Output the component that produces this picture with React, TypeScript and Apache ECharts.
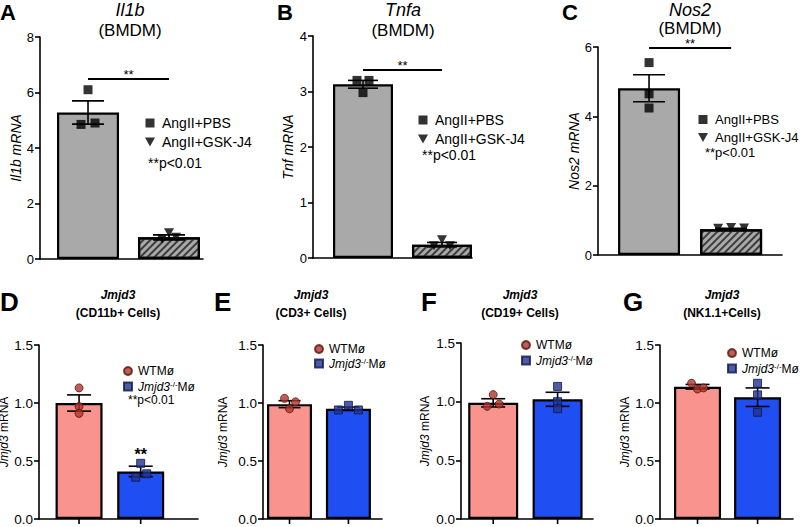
import React, { useEffect, useRef } from 'react';
import * as echarts from 'echarts';

const FONT = '"Liberation Sans", Arial, Helvetica, sans-serif';

// ---------------- data ----------------
const bmdmGroups = ['AngII+PBS', 'AngII+GSK-J4'];
const jmjdGroups = ['WTMø', 'Jmjd3-/-Mø'];

const il1bTicks = [0, 2, 4, 6, 8];
const il1bMean = [5.28, 0.78];
const il1bSem = [0.42, 0.09];
const il1bPbs = [6.1, 4.85, 4.9];
const il1bGsk = [0.95, 0.72, 0.78];
const il1bSig = 6.5;

const tnfTicks = [0, 1, 2, 3, 4];
const tnfMean = [3.13, 0.24];
const tnfSem = [0.07, 0.04];
const tnfPbs = [3.2, 3.2, 2.98];
const tnfGsk = [0.33, 0.22, 0.22];
const tnfSig = 3.39;

const nos2Ticks = [0, 2, 4, 6];
const nos2Mean = [4.81, 0.74];
const nos2Sem = [0.39, 0.03];
const nos2Pbs = [5.55, 4.65, 4.24];
const nos2Gsk = [0.77, 0.79, 0.78];
const nos2Sig = 5.97;

const jmjdTicks = [0, 0.5, 1.0, 1.5];

const cd11bMean = [1.0, 0.41];
const cd11bSem = [0.07, 0.045];
const cd11bWt = [1.13, 0.97, 0.91];
const cd11bKo = [0.48, 0.36, 0.39];
const cd11bStar = 0.56;

const cd3Mean = [0.99, 0.95];
const cd3Sem = [0.03, 0.015];
const cd3Wt = [1.04, 1.01, 0.95];
const cd3Ko = [0.94, 0.98, 0.94];

const cd19Mean = [0.99, 1.02];
const cd19Sem = [0.035, 0.06];
const cd19Wt = [1.06, 0.96, 0.98];
const cd19Ko = [1.13, 1.0, 0.94];

const nk11Mean = [1.14, 1.05];
const nk11Sem = [0.02, 0.08];
const nk11Wt = [1.17, 1.12, 1.13];
const nk11Ko = [1.17, 1.07, 0.92];

// ---------------- panels ----------------
type Layout = {
  left: number; top: number; width: number; height: number;
  xMin: number; xMax: number; barWidth: number; cap: number;
  jA: number[]; jB: number[]; nameGap: number;
  lgLeft: number; lgTop: number; lgGap: number; lgFont: number;
  letter: string; lx: number; ly: number;
  title1: string; title2: string; tx: number; t2y: number;
  pval?: [number, number];
};

const panels: any[] = [
  {
    kind: 'bmdm', mean: il1bMean, sem: il1bSem, ptsA: il1bPbs, ptsB: il1bGsk, ticks: il1bTicks,
    yName: 'Il1b mRNA', sig: il1bSig,
    L: { left: 40, top: 37, width: 163, height: 222, xMin: -0.593, xMax: 1.42, barWidth: 62, cap: 16,
      jA: [0, -7, 7], jB: [0, -7, 7], nameGap: 17, lgLeft: 145, lgTop: 116, lgGap: 5, lgFont: 14,
      letter: 'A', lx: 0, ly: 12, title1: 'Il1b', title2: '(BMDM)', tx: 130, t2y: 30, pval: [148, 163] } as Layout,
  },
  {
    kind: 'bmdm', mean: tnfMean, sem: tnfSem, ptsA: tnfPbs, ptsB: tnfGsk, ticks: tnfTicks,
    yName: 'Tnf mRNA', sig: tnfSig,
    L: { left: 313, top: 36, width: 159, height: 222, xMin: -0.633, xMax: 1.38, barWidth: 60, cap: 15,
      jA: [-6, 6, 0], jB: [0, -8, 8], nameGap: 18, lgLeft: 418, lgTop: 113, lgGap: 5, lgFont: 14,
      letter: 'B', lx: 277, ly: 12, title1: 'Tnfa', title2: '(BMDM)', tx: 403, t2y: 30, pval: [422, 155] } as Layout,
  },
  {
    kind: 'bmdm', mean: nos2Mean, sem: nos2Sem, ptsA: nos2Pbs, ptsB: nos2Gsk, ticks: nos2Ticks,
    yName: 'Nos2 mRNA', sig: nos2Sig,
    L: { left: 598, top: 47, width: 184, height: 208, xMin: -0.622, xMax: 1.62, barWidth: 62, cap: 16,
      jA: [0, 0, 0], jB: [-13, 0, 13], nameGap: 14, lgLeft: 698, lgTop: 113, lgGap: 5, lgFont: 13,
      letter: 'C', lx: 562, ly: 12, title1: 'Nos2', title2: '(BMDM)', tx: 690, t2y: 28, pval: [705, 152] } as Layout,
  },
  {
    kind: 'jmjd', mean: cd11bMean, sem: cd11bSem, ptsA: cd11bWt, ptsB: cd11bKo, ticks: jmjdTicks,
    star: cd11bStar,
    L: { left: 39, top: 345, width: 159, height: 174, xMin: -0.65, xMax: 1.93, barWidth: 47, cap: 12,
      jA: [0, 0, 0], jB: [0, -5, 6], nameGap: 16, lgLeft: 123, lgTop: 365, lgGap: 3, lgFont: 12,
      letter: 'D', lx: 0, ly: 302, title1: 'Jmjd3', title2: '(CD11b+ Cells)', tx: 118, t2y: 313, pval: [128, 400] } as Layout,
  },
  {
    kind: 'jmjd', mean: cd3Mean, sem: cd3Sem, ptsA: cd3Wt, ptsB: cd3Ko, ticks: jmjdTicks,
    L: { left: 263, top: 345, width: 119, height: 174, xMin: -0.45, xMax: 1.57, barWidth: 45, cap: 11,
      jA: [-5, 6, 0], jB: [-10, 0, 10], nameGap: 34, lgLeft: 314, lgTop: 343, lgGap: 2, lgFont: 12,
      letter: 'E', lx: 214, ly: 302, title1: 'Jmjd3', title2: '(CD3+ Cells)', tx: 311, t2y: 313 } as Layout,
  },
  {
    kind: 'jmjd', mean: cd19Mean, sem: cd19Sem, ptsA: cd19Wt, ptsB: cd19Ko, ticks: jmjdTicks,
    L: { left: 461, top: 343, width: 132, height: 176, xMin: -0.5, xMax: 1.55, barWidth: 50, cap: 12,
      jA: [0, -6, 6], jB: [0, 0, 0], nameGap: 30, lgLeft: 521, lgTop: 339, lgGap: 3, lgFont: 12,
      letter: 'F', lx: 421, ly: 302, title1: 'Jmjd3', title2: '(CD19+ Cells)', tx: 520, t2y: 313 } as Layout,
  },
  {
    kind: 'jmjd', mean: nk11Mean, sem: nk11Sem, ptsA: nk11Wt, ptsB: nk11Ko, ticks: jmjdTicks,
    L: { left: 660, top: 345, width: 133, height: 174, xMin: -0.625, xMax: 1.59, barWidth: 47, cap: 12,
      jA: [-6, 0, 6], jB: [0, 0, 0], nameGap: 29, lgLeft: 727, lgTop: 347, lgGap: 3, lgFont: 12,
      letter: 'G', lx: 623, ly: 302, title1: 'Jmjd3', title2: '(NK1.1+Cells)', tx: 722, t2y: 313 } as Layout,
  },
];

const TRI_DOWN = 'path://M0,0L10,0L5,9Z';
const SQUARE = 'path://M0,0L10,0L10,10L0,10Z';

function buildOption() {
  const grid: any[] = [];
  const xAxis: any[] = [];
  const yAxis: any[] = [];
  const series: any[] = [];
  const legend: any[] = [];
  const graphic: any[] = [];

  panels.forEach((p, k) => {
    const L: Layout = p.L;
    const bm = p.kind === 'bmdm';
    const groups = bm ? bmdmGroups : jmjdGroups;

    grid.push({ left: L.left, top: L.top, width: L.width, height: L.height, outerBoundsMode: 'none' });

    xAxis.push({
      gridIndex: k, type: 'value', min: L.xMin, max: L.xMax,
      axisLine: { show: true, onZero: false, lineStyle: { color: '#000', width: 1.6 } },
      axisTick: { show: false }, axisLabel: { show: false }, splitLine: { show: false },
    });

    const t = p.ticks;
    yAxis.push({
      gridIndex: k, type: 'value', min: t[0], max: t[t.length - 1], interval: t[1] - t[0],
      axisLine: { show: true, onZero: false, lineStyle: { color: '#000', width: 1.6 } },
      axisTick: { show: true, length: 5, lineStyle: { color: '#000', width: 1.6 } },
      axisLabel: {
        color: '#000', fontSize: bm ? 13 : 13.5, fontFamily: FONT, margin: 6,
        formatter: bm ? (v: number) => String(v) : (v: number) => v.toFixed(1),
      },
      splitLine: { show: false },
      name: bm ? p.yName : '{i|Jmjd3} mRNA',
      nameLocation: 'middle', nameGap: L.nameGap, nameRotate: 90,
      nameTextStyle: bm
        ? { color: '#000', fontSize: 14, fontStyle: 'italic', fontFamily: FONT }
        : {
            color: '#000', fontSize: 12, fontFamily: FONT,
            rich: { i: { color: '#000', fontSize: 12, fontStyle: 'italic', fontFamily: FONT } },
          },
    });

    const barStyles = bm
      ? [
          { color: '#a9a9a9', borderColor: '#000', borderWidth: 2.2 },
          {
            color: '#a9a9a9', borderColor: '#000', borderWidth: 2.2,
            decal: {
              symbol: 'rect', symbolSize: 1, dashArrayX: [1, 0], dashArrayY: [2, 3],
              rotation: -Math.PI / 4, color: '#3c3c3c',
            },
          },
        ]
      : [
          { color: '#f9938d', borderColor: '#000', borderWidth: 2.2 },
          { color: '#1f4ff2', borderColor: '#000', borderWidth: 2.2 },
        ];

    const bar: any = {
      type: 'bar', xAxisIndex: k, yAxisIndex: k, barWidth: L.barWidth, silent: true, z: 2,
      data: p.mean.map((v: number, i: number) => ({ value: [i, v], itemStyle: barStyles[i] })),
    };
    if (p.sig != null) {
      bar.markLine = {
        silent: true, symbol: ['none', 'none'],
        lineStyle: { color: '#000', width: 2, type: 'solid' },
        label: { show: true, position: 'middle', formatter: '**', color: '#000', fontSize: 13, fontFamily: FONT, distance: -2 },
        data: [[{ coord: [0, p.sig] }, { coord: [1, p.sig] }]],
      };
    }
    if (p.star != null) {
      bar.markPoint = {
        silent: true, symbol: 'circle', symbolSize: 1, itemStyle: { color: 'rgba(0,0,0,0)' },
        label: { show: true, position: 'inside', formatter: '**', color: '#000', fontSize: 16, fontWeight: 'bold', fontFamily: FONT },
        data: [{ coord: [1, p.star] }],
      };
    }
    series.push(bar);

    series.push({
      type: 'custom', xAxisIndex: k, yAxisIndex: k, silent: true, z: 3, clip: false,
      data: p.mean.map((v: number, i: number) => [i, v, p.sem[i]]),
      encode: { x: 0, y: 1 },
      renderItem: (params: any, api: any) => {
        const x = api.value(0), m = api.value(1), s = api.value(2);
        const tp = api.coord([x, m + s]);
        const bt = api.coord([x, m - s]);
        const z0 = api.coord([x, 0]);
        const st = { stroke: '#000', lineWidth: 1.6 };
        const h = L.cap;
        const children: any[] = [
          { type: 'line', shape: { x1: tp[0], y1: tp[1], x2: bt[0], y2: bt[1] }, style: st },
          { type: 'line', shape: { x1: tp[0] - h, y1: tp[1], x2: tp[0] + h, y2: tp[1] }, style: st },
          { type: 'line', shape: { x1: bt[0] - h, y1: bt[1], x2: bt[0] + h, y2: bt[1] }, style: st },
        ];
        if (!bm) {
          children.push({ type: 'line', shape: { x1: z0[0], y1: z0[1], x2: z0[0], y2: z0[1] + 5 }, style: st });
        }
        return { type: 'group', children };
      },
    });

    const symA = bm ? SQUARE : 'circle';
    const symB = bm ? TRI_DOWN : SQUARE;
    const styA = bm ? { color: '#000' } : { color: '#b0362c', borderColor: '#5a1410', borderWidth: 1 };
    const styB = bm ? { color: '#000' } : { color: '#22338f', borderColor: '#0e174f', borderWidth: 1 };
    series.push({
      type: 'scatter', name: groups[0], xAxisIndex: k, yAxisIndex: k, z: 4, silent: true,
      symbol: symA, symbolSize: bm ? 9 : 8, itemStyle: styA,
      data: p.ptsA.map((v: number, j: number) => ({ value: [0, v], symbolOffset: [L.jA[j], 0] })),
    });
    series.push({
      type: 'scatter', name: groups[1], xAxisIndex: k, yAxisIndex: k, z: 4, silent: true,
      symbol: symB, symbolSize: bm ? [10, 9] : 8, itemStyle: styB,
      data: p.ptsB.map((v: number, j: number) => ({ value: [1, v], symbolOffset: [L.jB[j], 0] })),
    });

    legend.push({
      left: L.lgLeft, top: L.lgTop, orient: 'vertical', padding: 0, itemGap: L.lgGap,
      itemWidth: bm ? 14 : 10, itemHeight: bm ? 9 : 8, selectedMode: false, symbolKeepAspect: true,
      data: groups,
      formatter: (name: string) => (name === 'Jmjd3-/-Mø' ? '{i|Jmjd3}{s|-/-}Mø' : name),
      textStyle: {
        color: '#000', fontSize: L.lgFont, fontFamily: FONT,
        rich: {
          i: { color: '#000', fontSize: 12, fontStyle: 'italic', fontFamily: FONT },
          s: { color: '#000', fontSize: 8, fontFamily: FONT, verticalAlign: 'top', padding: [0, 0, 5, 0] },
        },
      },
    });

    // panel letter
    graphic.push({
      type: 'text', x: L.lx, y: L.ly, silent: true,
      style: {
        text: L.letter, fill: '#000', fontFamily: FONT, fontWeight: 'bold', fontSize: bm ? 22 : 26,
        align: 'left', verticalAlign: 'middle',
      },
    });
    // titles
    graphic.push({
      type: 'text', x: L.tx, y: bm ? 10 : 295, silent: true,
      style: {
        text: L.title1, fill: '#000', fontFamily: FONT, fontStyle: 'italic',
        fontWeight: bm ? 'normal' : 'bold', fontSize: bm ? 18 : 12, align: 'center', verticalAlign: 'middle',
      },
    });
    graphic.push({
      type: 'text', x: L.tx, y: L.t2y, silent: true,
      style: {
        text: L.title2, fill: '#000', fontFamily: FONT,
        fontWeight: bm ? 'normal' : 'bold', fontSize: bm ? 17 : 12, align: 'center', verticalAlign: 'middle',
      },
    });
    if (L.pval) {
      graphic.push({
        type: 'text', x: L.pval[0], y: L.pval[1], silent: true,
        style: {
          text: '**p<0.01', fill: '#000', fontFamily: FONT, fontSize: bm ? L.lgFont : 12,
          align: 'left', verticalAlign: 'middle',
        },
      });
    }
  });

  return {
    animation: false,
    backgroundColor: '#fff',
    textStyle: { fontFamily: FONT },
    grid, xAxis, yAxis, series, legend, graphic,
  };
}

export default function App() {
  const ref = useRef<HTMLDivElement>(null);
  useEffect(() => {
    if (!ref.current) return;
    const chart = echarts.init(ref.current, undefined, { renderer: 'svg' });
    chart.setOption(buildOption() as any);
    return () => chart.dispose();
  }, []);
  return (
    <div
      ref={ref}
      style={{ position: 'absolute', left: 0, top: 0, width: 800, height: 527, background: '#fff' }}
    />
  );
}
